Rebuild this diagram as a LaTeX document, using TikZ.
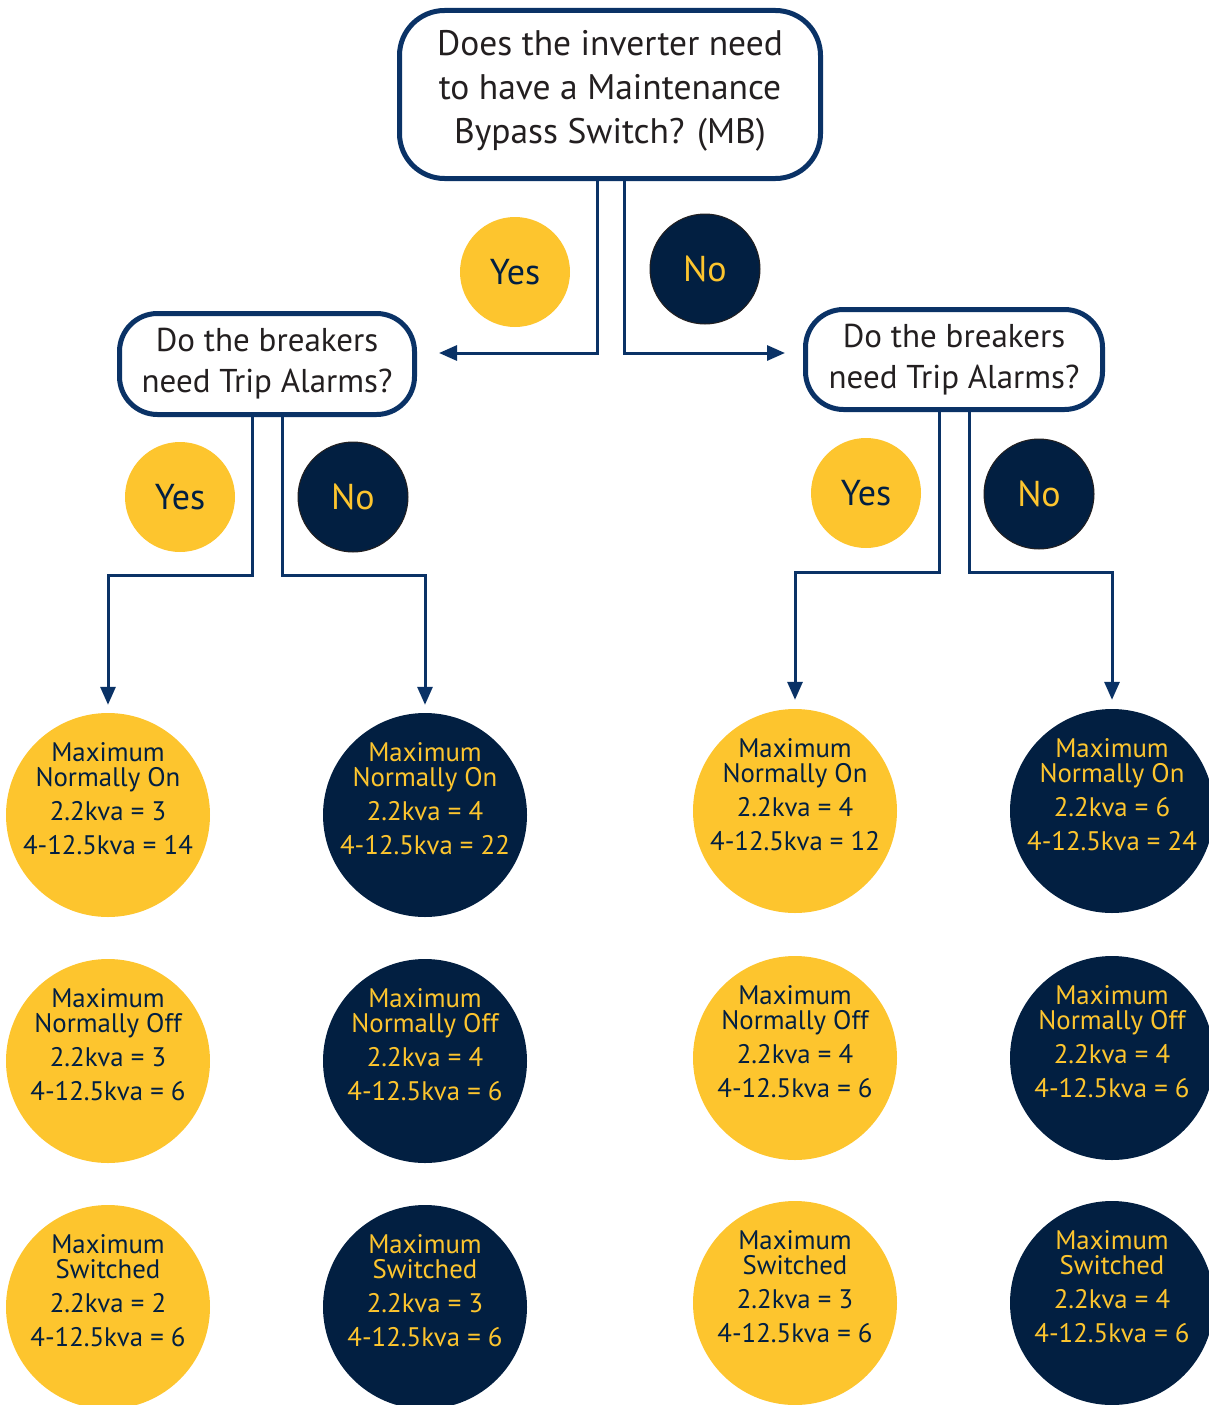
\documentclass[tikz,border=0pt]{standalone}
\usepackage{fontspec}
\setmainfont{PT Sans}
\usetikzlibrary{arrows.meta, positioning}
\definecolor{chartyellow}{RGB}{253, 197, 46}
\definecolor{chartnavy}{RGB}{2, 31, 65}
\definecolor{chartline}{RGB}{10, 50, 102}
\definecolor{charttext}{RGB}{35, 31, 32}
\tikzset{
  qbox/.style={draw=chartline, line width=5pt, fill=white, rounded corners=45pt, align=center, text=charttext, inner sep=0pt},
  yesdot/.style={circle, fill=chartyellow, minimum size=110pt, inner sep=0pt, text=chartnavy, font=\fontsize{36}{36}\selectfont},
  nodot/.style={yesdot, fill=chartnavy, draw=charttext, line width=1pt, text=chartyellow},
  restxt/.style={align=center, yshift=16pt, inner sep=0pt, font=\fontsize{26.8}{25}\selectfont},
  yres/.style={circle, fill=chartyellow, minimum size=204pt, inner sep=0pt, label={[restxt, text=chartnavy]center:#1}},
  nres/.style={circle, fill=chartnavy, minimum size=204pt, inner sep=0pt, label={[restxt, text=chartyellow]center:#1}},
  arr/.style={-{Triangle[length=18pt, width=15pt]}, line width=3pt, chartline}
}
\begin{document}
\begin{tikzpicture}[x=1pt, y=-1pt]
\clip (0,0) rectangle (1209,1405);
% questions
\node[qbox, minimum width=421pt, minimum height=168pt, font=\fontsize{35.5}{44}\selectfont] (mb) at (610,94.5) {Does the inverter need\\to have a Maintenance\\Bypass Switch? (MB)\\[-28pt]};
\node[qbox, rounded corners=38pt, minimum width=295pt, minimum height=101pt, font=\fontsize{33}{41}\selectfont] (tripl) at (267,364) {Do the breakers\\need Trip Alarms?};
\node[qbox, rounded corners=38pt, minimum width=297pt, minimum height=100pt, font=\fontsize{33}{41}\selectfont] (tripr) at (954,359.5) {Do the breakers\\need Trip Alarms?};
% answers
\node[yesdot] (yes1) at (515,272) {Yes};
\node[nodot] (no1) at (705,269) {No};
\node[yesdot] (yes2) at (180,497) {Yes};
\node[nodot] (no2) at (353,497) {No};
\node[yesdot] (yes3) at (866,493) {Yes};
\node[nodot] (no3) at (1039,494) {No};
% results, MB + trip alarms
\node[yres={Maximum\\Normally On\\[9pt]2.2kva = 3\\[9pt]4-12.5kva = 14}] (yy1) at (108,815) {};
\node[yres={Maximum\\Normally Off\\[9pt]2.2kva = 3\\[9pt]4-12.5kva = 6}] (yy2) at (108,1061) {};
\node[yres={Maximum\\Switched\\[9pt]2.2kva = 2\\[9pt]4-12.5kva = 6}] (yy3) at (108,1307) {};
% results, MB, no trip alarms
\node[nres={Maximum\\Normally On\\[9pt]2.2kva = 4\\[9pt]4-12.5kva = 22}] (yn1) at (425,815) {};
\node[nres={Maximum\\Normally Off\\[9pt]2.2kva = 4\\[9pt]4-12.5kva = 6}] (yn2) at (425,1061) {};
\node[nres={Maximum\\Switched\\[9pt]2.2kva = 3\\[9pt]4-12.5kva = 6}] (yn3) at (425,1307) {};
% results, no MB + trip alarms
\node[yres={Maximum\\Normally On\\[9pt]2.2kva = 4\\[9pt]4-12.5kva = 12}] (ny1) at (795,811) {};
\node[yres={Maximum\\Normally Off\\[9pt]2.2kva = 4\\[9pt]4-12.5kva = 6}] (ny2) at (795,1058) {};
\node[yres={Maximum\\Switched\\[9pt]2.2kva = 3\\[9pt]4-12.5kva = 6}] (ny3) at (795,1303) {};
% results, no MB, no trip alarms
\node[nres={Maximum\\Normally On\\[9pt]2.2kva = 6\\[9pt]4-12.5kva = 24}] (nn1) at (1112,811) {};
\node[nres={Maximum\\Normally Off\\[9pt]2.2kva = 4\\[9pt]4-12.5kva = 6}] (nn2) at (1112,1058) {};
\node[nres={Maximum\\Switched\\[9pt]2.2kva = 4\\[9pt]4-12.5kva = 6}] (nn3) at (1112,1303) {};
% connectors
\draw[arr] ([xshift=-13pt]mb.south) |- ([xshift=22pt,yshift=11pt]tripl.east);
\draw[arr] ([xshift=14pt]mb.south) |- ([xshift=-18pt,yshift=6.5pt]tripr.west);
\draw[arr] ([xshift=-15pt]tripl.south) -- ++(0,158.5) -| ([yshift=8pt]yy1.north);
\draw[arr] ([xshift=15pt]tripl.south) -- ++(0,158.5) -| ([yshift=8pt]yn1.north);
\draw[arr] ([xshift=-15pt]tripr.south) -- ++(0,160.5) -| ([yshift=9pt]ny1.north);
\draw[arr] ([xshift=15pt]tripr.south) -- ++(0,160.5) -| ([yshift=9pt]nn1.north);
\end{tikzpicture}
\end{document}
